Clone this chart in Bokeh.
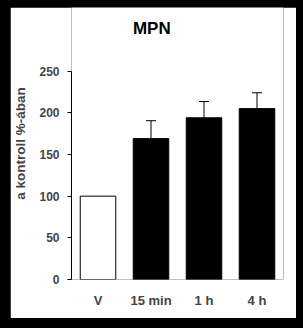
from bokeh.plotting import figure
from bokeh.models import FactorRange, Range1d, FixedTicker, Whisker, TeeHead, ColumnDataSource
from bokeh.core.properties import value
from bokeh.layouts import column
from bokeh.embed import file_html
from bokeh.resources import INLINE

categories = ["V", "15 min", "1 h", "4 h"]
values = [100, 169, 194, 205]
errors = [0, 21.5, 19.5, 19]
fill_colors = ["white", "black", "black", "black"]
y_ticks = [0, 50, 100, 150, 200, 250]
title_text = "MPN"
y_label_text = "a kontroll %-ában"

FONT = "Liberation Sans"
Y_MAX = 250
Y_TOP = 326.3  # extra headroom above the axis where the title sits

p = figure(
    width=286, height=311,
    x_range=FactorRange(factors=categories, range_padding=0),
    y_range=Range1d(0, Y_TOP),
    output_backend="svg", toolbar_location=None,
    min_border_left=59, min_border_right=13, min_border_top=0, min_border_bottom=39,
)
p.background_fill_color = "white"
p.border_fill_color = "white"
p.outline_line_color = None
p.xgrid.visible = False
p.ygrid.visible = False

src = ColumnDataSource(dict(x=categories, top=values, fill=fill_colors))
p.vbar(x="x", top="top", width=0.67, source=src, fill_color="fill", line_color="black", line_width=1)

err_src = ColumnDataSource(dict(
    x=categories[1:],
    lower=values[1:],
    upper=[v + e for v, e in zip(values[1:], errors[1:])],
))
w = Whisker(base="x", lower="lower", upper="upper", source=err_src,
            line_color="black", line_width=1,
            upper_head=TeeHead(size=10, line_color="black", line_width=1),
            lower_head=None)
p.add_layout(w)

# chart title, drawn in the headroom above the y axis
p.text(x=[("15 min", 0.015)], y=[301.5], text=[title_text],
       text_font=value(FONT), text_font_size="17px", text_font_style="bold",
       text_align="center", text_baseline="alphabetic", text_color="black")

ya = p.yaxis[0]
ya.bounds = (0, Y_MAX)
ya.ticker = FixedTicker(ticks=y_ticks)
ya.minor_tick_line_color = None
ya.major_tick_in = 0
ya.major_tick_out = 4
ya.major_label_standoff = 8
ya.major_label_text_font = FONT
ya.major_label_text_font_size = "12px"
ya.major_label_text_font_style = "bold"
ya.axis_label = y_label_text
ya.axis_label_text_font = FONT
ya.axis_label_text_font_size = "13.5px"
ya.axis_label_text_font_style = "bold"
ya.axis_label_standoff = 8
ya.axis_line_color = "black"

xa = p.xaxis[0]
xa.axis_line_color = None
xa.major_tick_line_color = None
xa.minor_tick_line_color = None
xa.major_tick_in = 0
xa.major_tick_out = 0
xa.major_label_standoff = 13
xa.major_label_text_font = FONT
xa.major_label_text_font_size = "13px"
xa.major_label_text_font_style = "bold"

layout = column(p, styles={"background-color": "black", "padding": "7px 7px 10px 10px"})

open("out.html", "w").write(file_html(layout, INLINE))
